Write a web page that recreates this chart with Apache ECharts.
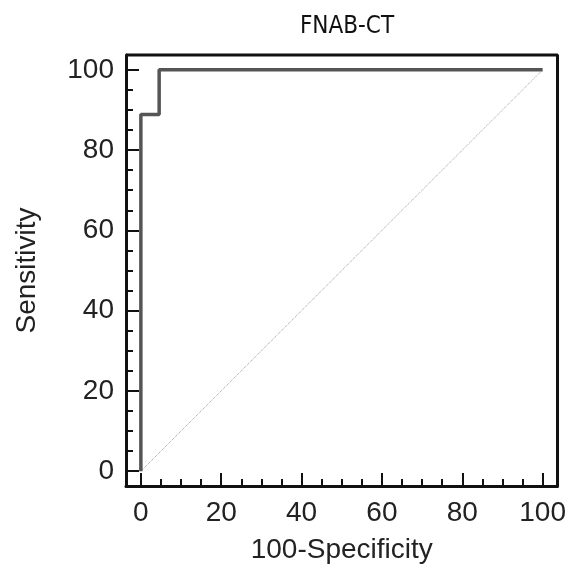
<!DOCTYPE html>
<html>
<head>
<meta charset="utf-8">
<script src="https://cdn.jsdelivr.net/npm/echarts@6/dist/echarts.min.js"></script>
<style>html,body{margin:0;padding:0;background:#fff;}#c{width:569px;height:571px;}</style>
</head>
<body>
<div id="c"></div>
<script>
// ROC curve data (100-Specificity, Sensitivity)
const rocX = [0, 0, 4.55, 4.55, 100];
const rocY = [0, 88.9, 88.9, 100, 100];
const diagX = [0, 100];
const diagY = [0, 100];
const majorTicks = [0, 20, 40, 60, 80, 100];
const minorTicks = [5, 10, 15, 25, 30, 35, 45, 50, 55, 65, 70, 75, 85, 90, 95];
const titleText = 'FNAB-CT';
const xName = '100-Specificity';
const yName = 'Sensitivity';

const FONT = '"Liberation Sans", Arial, sans-serif';
const AMIN = -3.7, AMAX = 103.7;
const grid = {left: 126, top: 55, right: 11, bottom: 85, show: false};

function axisBase(dim, ticks, len, showLabel, idx) {
  return {
    type: 'value', min: AMIN, max: AMAX, gridIndex: 0,
    position: dim === 'x' ? 'bottom' : 'left',
    axisLine: {show: idx === 0, onZero: false, lineStyle: {color: '#111', width: 3}},
    axisTick: {show: true, inside: true, length: len, customValues: ticks, lineStyle: {color: '#111', width: 2}},
    axisLabel: {show: showLabel, customValues: ticks, fontSize: 28, fontFamily: FONT, color: '#222', margin: dim === 'x' ? 13 : 12},
    splitLine: {show: false},
    name: idx === 0 ? (dim === 'x' ? xName : yName) : '',
    nameLocation: 'middle',
    nameGap: dim === 'x' ? 50 : 85,
    nameTextStyle: {fontSize: 28, fontFamily: FONT, color: '#222'}
  };
}

const chart = echarts.init(document.getElementById('c'));
chart.setOption({
  animation: false,
  title: {text: titleText, left: 342, textAlign: 'center', top: 10,
    textStyle: {fontSize: 24, fontWeight: 'normal', fontFamily: '"Liberation Sans Narrow", "DejaVu Sans Condensed", sans-serif', color: '#111'}},
  grid: grid,
  xAxis: [axisBase('x', majorTicks, 13, true, 0), axisBase('x', minorTicks, 7, false, 1)],
  yAxis: [axisBase('y', majorTicks, 13, true, 0), axisBase('y', minorTicks, 7, false, 1)],
  series: [
    {type: 'line', xAxisIndex: 0, yAxisIndex: 0, data: diagX.map((v, i) => [v, diagY[i]]),
      symbol: 'none', lineStyle: {color: '#999', width: 1, type: 'dotted'}, silent: true},
    {type: 'line', xAxisIndex: 0, yAxisIndex: 0, data: rocX.map((v, i) => [v, rocY[i]]),
      symbol: 'none', lineStyle: {color: '#555', width: 3.5}, silent: true},
    // top and right frame borders
    {type: 'line', xAxisIndex: 0, yAxisIndex: 0, data: [[AMIN, AMAX], [AMAX, AMAX], [AMAX, AMIN]],
      symbol: 'none', lineStyle: {color: '#111', width: 3}, silent: true, clip: false}
  ]
});
</script>
</body>
</html>
